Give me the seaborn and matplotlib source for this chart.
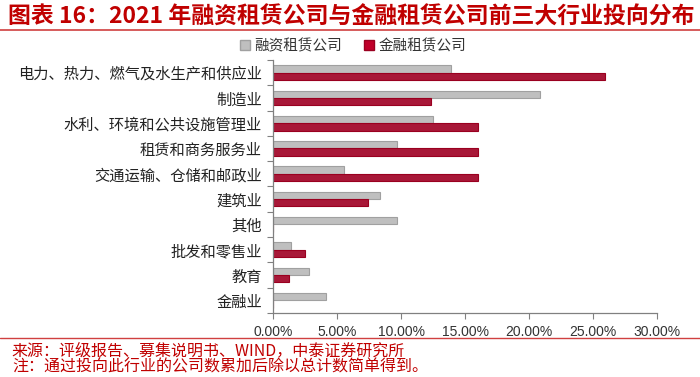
import pandas as pd
import seaborn as sns
import matplotlib.pyplot as plt
from matplotlib.ticker import FuncFormatter, FixedLocator
from matplotlib.patches import Patch

# 行业类别
industries = ['电力、热力、燃气及水生产和供应业', '制造业', '水利、环境和公共设施管理业',
              '租赁和商务服务业', '交通运输、仓储和邮政业', '建筑业', '其他',
              '批发和零售业', '教育', '金融业']
series_names = ['融资租赁公司', '金融租赁公司']
# 占比（%）
leasing_share = [13.89, 20.83, 12.50, 9.72, 5.56, 8.33, 9.72, 1.39, 2.78, 4.17]
fin_leasing_share = [25.93, 12.35, 16.05, 16.05, 16.05, 7.41, 0.0, 2.47, 1.23, 0.0]
x_ticks = [0, 5, 10, 15, 20, 25, 30]

sns.set_theme(style='white')
plt.rcParams['font.family'] = ['Noto Sans CJK SC', 'DejaVu Sans']

df = pd.DataFrame({
    'industry': industries * 2,
    'series': [series_names[0]] * len(industries) + [series_names[1]] * len(industries),
    'share': leasing_share + fin_leasing_share,
})

red = '#C0002A'
dark_red = '#C00000'
gray = '#BFBFBF'

fig = plt.figure(figsize=(7, 3.77), dpi=100)
ax = fig.add_axes([0.39, 0.170, 0.5486, 0.671])

sns.barplot(data=df, y='industry', x='share', hue='series', orient='h',
            palette=[gray, red], width=0.58, ax=ax, legend=False,
            linewidth=0.8, edgecolor=None)
# 边框颜色
for bar, ec in zip(ax.patches, ['#A0A0A0'] * len(industries) + ['#9A0020'] * len(industries)):
    bar.set_edgecolor(ec)

ax.set_xlim(0, 30)
ax.set_ylim(len(industries) - 0.5, -0.5)
ax.xaxis.set_major_locator(FixedLocator(x_ticks))
ax.xaxis.set_major_formatter(FuncFormatter(lambda v, p: f'{v:.2f}%'))
for lab in ax.get_xticklabels():
    lab.set_family(['Liberation Sans', 'DejaVu Sans'])
ax.tick_params(axis='x', which='major', direction='out', length=4, width=0.8,
               color='#808080', labelsize=10, pad=5, bottom=True, labelcolor='#333333')
ax.set_yticks(range(len(industries)))
ax.set_yticklabels(industries, fontsize=11, color='#222222')
ax.set_yticks([i - 0.5 for i in range(len(industries) + 1)], minor=True)
ax.tick_params(axis='y', which='major', length=0, pad=8)
ax.tick_params(axis='y', which='minor', direction='out', length=4, width=0.8,
               color='#808080', left=True)
ax.set_xlabel('')
ax.set_ylabel('')
for s in ['top', 'right']:
    ax.spines[s].set_visible(False)
for s in ['left', 'bottom']:
    ax.spines[s].set_color('#808080')
    ax.spines[s].set_linewidth(0.9)

# 图例
handles = [Patch(facecolor=gray, edgecolor='#A0A0A0'), Patch(facecolor=red, edgecolor='#9A0020')]
fig.legend(handles, series_names, loc='center', bbox_to_anchor=(0.504, 0.878), ncol=2,
           frameon=False, fontsize=10.5, handlelength=0.7, handleheight=0.7,
           handletextpad=0.3, columnspacing=1.5, labelcolor='#333333')

# 标题与分隔线
fig.text(0.012, 0.955, '图表 16：2021 年融资租赁公司与金融租赁公司前三大行业投向分布',
         fontsize=16.5, fontweight='bold', color=dark_red, va='center', ha='left')
fig.add_artist(plt.Line2D([0, 1], [1 - 30 / 377] * 2, color='#D04040', lw=1.2))
fig.add_artist(plt.Line2D([0, 1], [1 - 338 / 377] * 2, color='#D04040', lw=1.0))

# 资料来源
fig.text(0.017, 1 - 351 / 377, '来源：评级报告、募集说明书、WIND，中泰证券研究所',
         fontsize=11.5, color=dark_red, va='center', ha='left')
fig.text(0.017, 1 - 367 / 377, '注：通过投向此行业的公司数累加后除以总计数简单得到。',
         fontsize=11.5, color=dark_red, va='center', ha='left')

fig.savefig('out.png', dpi=100)
